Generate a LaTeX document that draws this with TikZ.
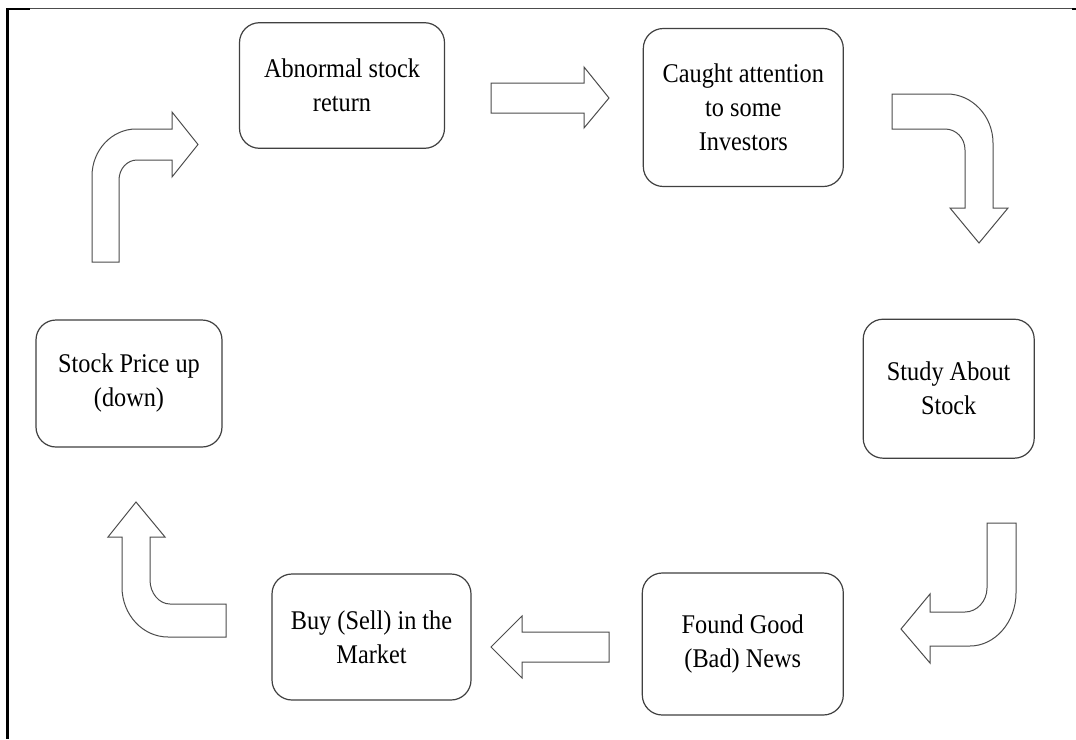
\documentclass[tikz,border=0pt]{standalone}
\usepackage{fontspec}
\setmainfont{Liberation Serif}[FakeStretch=0.9]
\begin{document}
\begin{tikzpicture}[x=1pt,y=-1pt,
  stepbox/.style={draw=black!75, line width=1.2pt, rounded corners=20pt,
    align=center, inner sep=0pt, font=\fontsize{27}{34}\selectfont, text=black},
  blockarrow/.style={draw=black!70, line width=1pt, fill=white, line join=miter}]
\useasboundingbox (0,0) rectangle (1076,739);
\fill[white] (0,0) rectangle (1076,739);

% page frame
\draw[black!70, line width=0.9pt] (7,8.3) -- (1073,8.3);
\draw[black, line width=2pt] (7,8.8) -- (30,8.8);
\draw[black, line width=2pt] (1072,8.8) -- (1076,8.8);
\draw[black, line width=2.2pt] (7.5,8) -- (7.5,739);

% process steps
\node[stepbox, minimum width=205, minimum height=125.6] (abn) at (342,85.5)
  {Abnormal stock\\return};
\node[stepbox, minimum width=200, minimum height=158] (cau) at (743.3,107.5)
  {Caught attention\\to some\\Investors};
\node[stepbox, minimum width=171, minimum height=139] (stu) at (948.7,388.7)
  {Study About\\Stock};
\node[stepbox, minimum width=201, minimum height=142] (fou) at (742.8,644)
  {Found Good\\(Bad) News};
\node[stepbox, minimum width=199, minimum height=126] (buy) at (371.5,637)
  {Buy (Sell) in the\\Market};
\node[stepbox, minimum width=186, minimum height=127] (sto) at (129,383.5)
  {Stock Price up\\(down)};

% straight block arrow: abnormal return -> attention
\draw[blockarrow] (491,83) -- (584,83) -- (584,67) -- (609,98) -- (584,128)
  -- (584,113) -- (491,113) -- cycle;

% bent block arrow: attention -> study
\draw[blockarrow] (892,94) -- (947,94) .. controls (972,94) and (993,116) .. (993,143)
  -- (993,208) -- (1008,208) -- (979,243) -- (950,208) -- (965,208) -- (965,150)
  .. controls (965,138) and (956,129) .. (945,129) -- (892,129) -- cycle;

% bent block arrow: study -> found news
\draw[blockarrow] (987,523) -- (1016,523) -- (1016,593)
  .. controls (1016,622) and (995,646) .. (970,646) -- (930,646) -- (930,663)
  -- (901,629) -- (930,594) -- (930,612) -- (965,612)
  .. controls (977,612) and (987,601) .. (987,588) -- cycle;

% straight block arrow: found news -> buy/sell
\draw[blockarrow] (609,632) -- (522,632) -- (522,616) -- (491,647) -- (522,678)
  -- (522,662) -- (609,662) -- cycle;

% bent block arrow: buy/sell -> price
\draw[blockarrow] (226,637) -- (168,637) .. controls (143,637) and (122,615) .. (122,587)
  -- (122,537) -- (108,537) -- (136,502) -- (165,537) -- (150,537) -- (150,580)
  .. controls (150,593) and (159,604) .. (170,604) -- (226,604) -- cycle;

% bent block arrow: price -> abnormal return
\draw[blockarrow] (92,262) -- (92,176) .. controls (92,150) and (112,129) .. (136,129)
  -- (172,129) -- (172,112) -- (198,144.5) -- (172,177) -- (172,160) -- (137,160)
  .. controls (127,160) and (119,169) .. (119,180) -- (119,262) -- cycle;
\end{tikzpicture}
\end{document}
